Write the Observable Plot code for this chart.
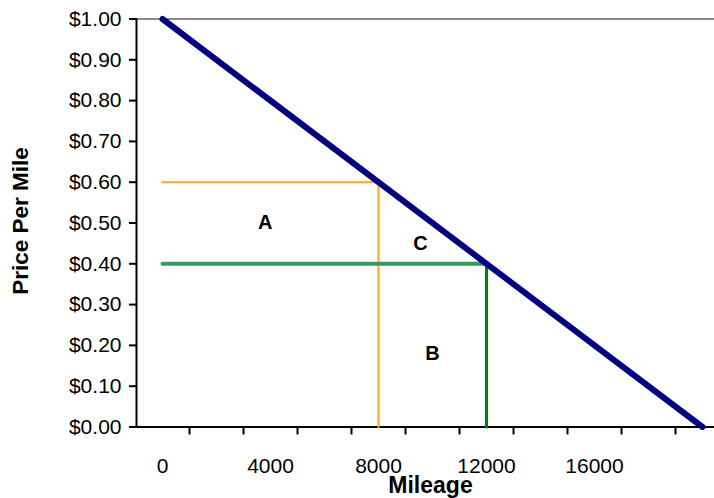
<!DOCTYPE html>
<html>
<head>
<meta charset="utf-8">
<script src="https://cdn.jsdelivr.net/npm/d3@7"></script>
<script src="https://cdn.jsdelivr.net/npm/@observablehq/plot@0.6"></script>
<style>
  html, body { margin: 0; padding: 0; background: #fff; }
  #chart svg { display: block; }
</style>
</head>
<body>
<div id="chart"></div>
<script>
// Demand line
const demandMileage = [0, 20000];
const demandPrice = [1.0, 0.0];
// Price levels and quantities
const orangeMileage = 8000;
const orangePrice = 0.60;
const greenMileage = 12000;
const greenPrice = 0.40;
// Area labels
const areaLabels = ["A", "B", "C"];
const areaMileage = [3800, 10000, 9550];
const areaPrice = [0.50, 0.18, 0.45];
// Axis ticks
const yTicks = [0, 0.1, 0.2, 0.3, 0.4, 0.5, 0.6, 0.7, 0.8, 0.9, 1.0];
const xLabelTicks = [0, 4000, 8000, 12000, 16000];
const xMarkTicks = [1000, 3000, 5000, 7000, 9000, 11000, 13000, 15000, 17000, 19000];

const demand = demandMileage.map((m, i) => ({mileage: m, price: demandPrice[i]}));
const orangeH = [{mileage: 0, price: orangePrice}, {mileage: orangeMileage, price: orangePrice}];
const orangeV = [{mileage: orangeMileage, price: orangePrice}, {mileage: orangeMileage, price: 0}];
const greenH = [{mileage: 0, price: greenPrice}, {mileage: greenMileage, price: greenPrice}];
const greenV = [{mileage: greenMileage, price: greenPrice}, {mileage: greenMileage, price: 0}];
const labels = areaLabels.map((t, i) => ({text: t, mileage: areaMileage[i], price: areaPrice[i]}));

const font = "'Liberation Sans', Arial, Helvetica, sans-serif";

const chart = Plot.plot({
  width: 714,
  height: 498,
  marginLeft: 136,
  marginRight: 0,
  marginTop: 18.5,
  marginBottom: 71.5,
  style: {fontFamily: font, fontSize: "21px", background: "#fff", color: "#000"},
  x: {domain: [-963, 20444]},
  y: {domain: [0, 1]},
  marks: [
    Plot.ruleY([1], {stroke: "#8c8c8c", strokeWidth: 2}),
    Plot.axisY({ticks: yTicks, tickFormat: d3.format("$.2f"), tickSize: 7, tickPadding: 8,
      fontSize: 21, stroke: "#000", strokeWidth: 2, label: null}),
    Plot.axisX({ticks: xMarkTicks, tickSize: 8, tickFormat: () => "", stroke: "#000", strokeWidth: 2, label: null}),
    Plot.axisX({ticks: xLabelTicks, tickSize: 0, tickPadding: 31, tickFormat: d3.format("d"), fontSize: 21, label: null}),
    Plot.frame({anchor: "left", stroke: "#000", strokeWidth: 2}),
    Plot.frame({anchor: "bottom", stroke: "#000", strokeWidth: 2}),
    Plot.line(orangeH, {x: "mileage", y: "price", stroke: "#FFA521", strokeWidth: 2}),
    Plot.line(orangeV, {x: "mileage", y: "price", stroke: "#FFA521", strokeWidth: 2}),
    Plot.line(greenH, {x: "mileage", y: "price", stroke: "#3A9A5E", strokeWidth: 4}),
    Plot.line(greenV, {x: "mileage", y: "price", stroke: "#008000", strokeWidth: 3}),
    Plot.line(demand, {x: "mileage", y: "price", stroke: "#000080", strokeWidth: 6}),
    Plot.text(labels, {x: "mileage", y: "price", text: "text", fontWeight: "bold", fontSize: 20, fill: "#000"}),
    Plot.text(["Mileage"], {frameAnchor: "bottom", lineAnchor: "bottom", textAnchor: "middle", dy: 65.5, dx: 5,
      fontWeight: "bold", fontSize: 23, fill: "#000"}),
    Plot.text(["Price Per Mile"], {frameAnchor: "left", textAnchor: "middle", lineAnchor: "middle", rotate: -90, dx: -116, dy: -2,
      fontWeight: "bold", fontSize: 22.5, fill: "#000"})
  ]
});

document.getElementById("chart").appendChild(chart);
</script>
</body>
</html>
